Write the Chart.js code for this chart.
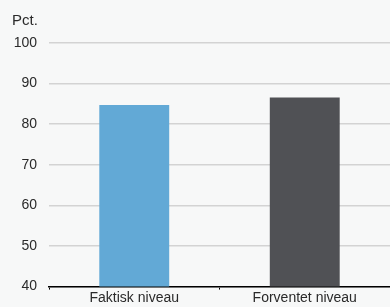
<!DOCTYPE html>
<html>
<head>
<meta charset="utf-8">
<script src="https://cdn.jsdelivr.net/npm/chart.js@4"></script>
<style>
  html, body { margin: 0; padding: 0; background: #f7f8f8; }
  #wrap { width: 390px; height: 307px; }
</style>
</head>
<body>
<div id="wrap"><canvas id="chart"></canvas></div>
<script>
'use strict';

var categories = ['Faktisk niveau', 'Forventet niveau'];
var values = [84.7, 86.6];
var barColors = ['#62a9d6', '#505155'];
var yTicks = [40, 50, 60, 70, 80, 90, 100];

var bgPlugin = {
    id: 'bg',
    beforeDraw: function(chart) {
        var c = chart.ctx;
        c.save();
        c.fillStyle = '#f7f8f8';
        c.fillRect(0, 0, chart.width, chart.height);
        c.restore();
    }
};

var ctx = document.getElementById('chart').getContext('2d');
var chart = new Chart(ctx, {
    type: 'bar',
    data: {
        labels: categories,
        datasets: [{
            data: values,
            backgroundColor: barColors,
            barPercentage: 0.41,
            categoryPercentage: 1
        }]
    },
    options: {
        responsive: true,
        maintainAspectRatio: false,
        animation: false,
        layout: { padding: { left: 12, right: 0, top: 0, bottom: 0 } },
        plugins: {
            legend: { display: false },
            tooltip: { enabled: false },
            title: {
                display: true,
                text: 'Pct.',
                align: 'start',
                color: '#2a2a2a',
                font: { family: 'Liberation Sans', size: 15, weight: 'normal' },
                padding: { top: 12, bottom: 13 }
            }
        },
        scales: {
            x: {
                offset: true,
                grid: {
                    offset: true,
                    drawOnChartArea: false,
                    drawTicks: true,
                    tickLength: 3,
                    color: '#000'
                },
                border: { display: true, color: '#000', width: 1.5 },
                ticks: {
                    color: '#2a2a2a',
                    padding: 0,
                    font: { family: 'Liberation Sans', size: 14 }
                }
            },
            y: {
                min: 40,
                max: 100,
                afterFit: function(axis) { axis.width = 37; },
                afterBuildTicks: function(axis) {
                    axis.ticks = yTicks.map(function(v) { return { value: v }; });
                },
                grid: {
                    drawTicks: false,
                    color: '#d3d3d3',
                    lineWidth: 1.5
                },
                border: { display: false },
                ticks: {
                    color: '#2a2a2a',
                    padding: 12,
                    font: { family: 'Liberation Sans', size: 14 }
                }
            }
        }
    },
    plugins: [bgPlugin]
});
</script>
</body>
</html>
